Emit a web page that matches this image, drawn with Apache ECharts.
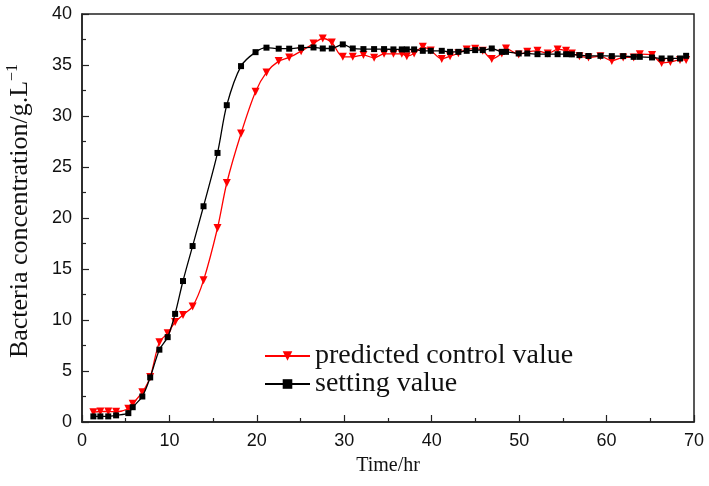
<!DOCTYPE html>
<html>
<head>
<meta charset="utf-8">
<script src="https://cdn.jsdelivr.net/npm/echarts@6/dist/echarts.min.js"></script>
<style>html,body{margin:0;padding:0;background:#fff}#c{width:709px;height:486px}</style>
</head>
<body>
<div id="c"></div>
<script>
var times = [1.3, 2.1, 3.0, 3.9, 5.3, 5.8, 6.9, 7.8, 8.85, 9.8, 10.65, 11.55, 12.65, 13.9, 15.5, 16.56, 18.19, 19.85, 21.1, 22.5, 23.7, 25.06, 26.48, 27.54, 28.57, 29.83, 30.97, 32.19, 33.41, 34.55, 35.62, 36.58, 37.15, 37.99, 38.98, 39.89, 41.15, 42.1, 43.05, 44.0, 44.97, 45.84, 46.87, 48.02, 48.5, 49.95, 50.93, 52.1, 53.27, 54.4, 55.37, 56.03, 56.9, 57.93, 59.3, 60.6, 61.9, 63.1, 63.8, 65.2, 66.3, 67.3, 68.4, 69.1];
var settingValue = [0.55, 0.55, 0.55, 0.65, 0.87, 1.45, 2.5, 4.37, 7.09, 8.32, 10.6, 13.82, 17.25, 21.15, 26.38, 31.06, 34.89, 36.26, 36.7, 36.6, 36.6, 36.7, 36.72, 36.62, 36.62, 37.02, 36.62, 36.56, 36.56, 36.56, 36.53, 36.53, 36.53, 36.53, 36.39, 36.39, 36.39, 36.29, 36.29, 36.39, 36.46, 36.46, 36.62, 36.29, 36.29, 36.13, 36.13, 36.06, 36.06, 36.06, 36.06, 36.04, 35.97, 35.88, 35.9, 35.87, 35.87, 35.8, 35.8, 35.74, 35.64, 35.64, 35.64, 35.9];
var predictedValue = [0.96, 1.03, 1.03, 1.0, 1.3, 1.79, 2.92, 4.4, 7.83, 8.7, 9.8, 10.5, 11.33, 13.89, 19.02, 23.43, 28.28, 32.37, 34.27, 35.38, 35.74, 36.36, 37.1, 37.6, 37.2, 35.8, 35.8, 35.97, 35.7, 36.1, 36.1, 36.1, 35.87, 36.13, 36.78, 36.42, 35.6, 35.87, 36.15, 36.53, 36.6, 36.4, 35.6, 36.13, 36.62, 36.04, 36.29, 36.39, 36.13, 36.53, 36.39, 36.13, 35.87, 35.74, 35.87, 35.4, 35.74, 35.74, 36.06, 35.97, 35.2, 35.3, 35.5, 35.5];
var seriesNames = ['predicted control value', 'setting value'];

function pairs(xs, ys) { return xs.map(function (x, i) { return [x, ys[i]]; }); }

var chart = echarts.init(document.getElementById('c'), null, { renderer: 'canvas' });
var axisLine = { show: true, lineStyle: { color: '#222', width: 1.5 } };
chart.setOption({
  animation: false,
  backgroundColor: '#fff',
  grid: { left: 82, right: 15, top: 14, bottom: 64, show: true, borderColor: '#222', borderWidth: 1.5, backgroundColor: 'transparent', containLabel: false, outerBoundsMode: 'none' },
  legend: {
    orient: 'vertical', left: 259, top: 337, itemWidth: 45, itemHeight: 12, itemGap: 0,
    textStyle: { fontFamily: 'Liberation Serif', fontSize: 28, color: '#111' },
    data: seriesNames
  },
  xAxis: {
    type: 'value', min: 0, max: 70, interval: 10,
    name: 'Time/hr', nameLocation: 'middle', nameGap: 34,
    nameTextStyle: { fontFamily: 'Liberation Serif', fontSize: 20, color: '#111' },
    axisLine: axisLine,
    axisTick: { inside: true, length: 7, lineStyle: { color: '#222', width: 1.2 } },
    minorTick: { show: true, splitNumber: 2, length: 4, lineStyle: { color: '#222', width: 1.2 } },
    axisLabel: { fontFamily: 'Liberation Sans', fontSize: 18, color: '#111', margin: 10 },
    splitLine: { show: false }
  },
  yAxis: {
    type: 'value', min: 0, max: 40, interval: 5,
    name: 'Bacteria concentration/g.L{sup|\u22121}', nameLocation: 'middle', nameGap: 46,
    nameTextStyle: { fontFamily: 'Liberation Serif', fontSize: 26, color: '#111', padding: [0, 0, 0, 14],
      rich: { sup: { fontFamily: 'Liberation Serif', fontSize: 16, color: '#111', padding: [0, 0, 15, 0] } } },
    axisLine: axisLine,
    axisTick: { inside: true, length: 7, lineStyle: { color: '#222', width: 1.2 } },
    minorTick: { show: true, splitNumber: 2, length: 4, lineStyle: { color: '#222', width: 1.2 } },
    axisLabel: { fontFamily: 'Liberation Sans', fontSize: 18, color: '#111', margin: 10 },
    splitLine: { show: false }
  },
  series: [
    {
      name: seriesNames[0], type: 'line', smooth: 0.3,
      data: pairs(times, predictedValue),
      symbol: 'triangle', symbolRotate: 180, symbolSize: 8,
      lineStyle: { color: '#ff0000', width: 1.3 },
      itemStyle: { color: '#ff0000' },
      z: 2
    },
    {
      name: seriesNames[1], type: 'line', smooth: 0.3,
      data: pairs(times, settingValue),
      symbol: 'rect', symbolSize: 6,
      lineStyle: { color: '#000', width: 1.3 },
      itemStyle: { color: '#000' },
      z: 3
    }
  ]
});
</script>
</body>
</html>
